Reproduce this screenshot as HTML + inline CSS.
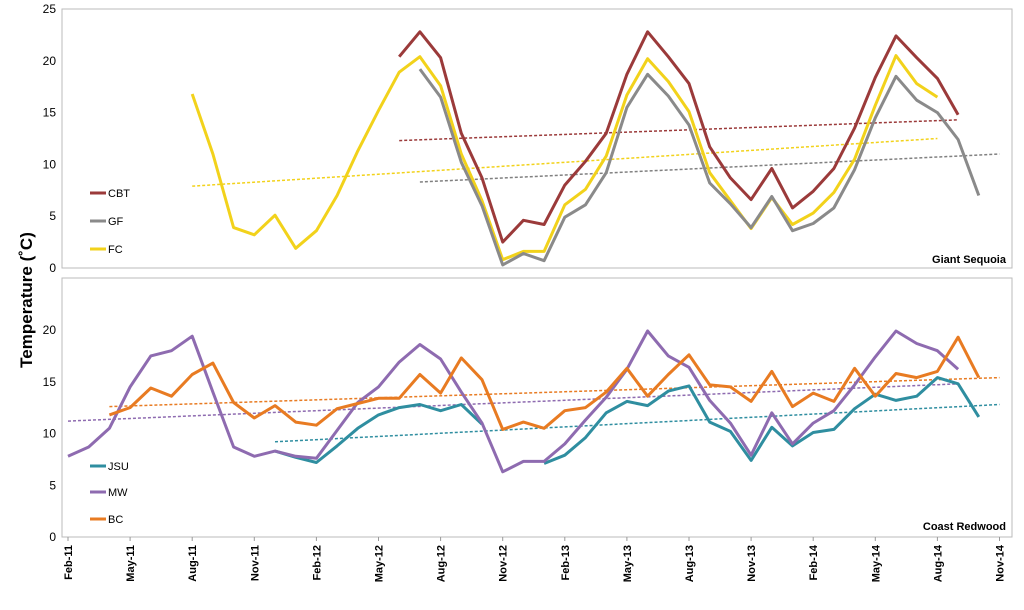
<!DOCTYPE html>
<html><head><meta charset="utf-8"><style>
body{margin:0;background:#fff;font-family:"Liberation Sans",sans-serif}
svg text{font-family:"Liberation Sans",sans-serif}
</style></head><body>
<svg id="c" width="1024" height="605"></svg>
<script>
const months=["Feb-11","May-11","Aug-11","Nov-11","Feb-12","May-12","Aug-12","Nov-12","Feb-13","May-13","Aug-13","Nov-13","Feb-14","May-14","Aug-14","Nov-14"];
const yTicksTop=[0,5,10,15,20,25];
const yTicksBot=[0,5,10,15,20];
const fcStart=6;
const fcVals=[16.8,11,3.9,3.2,5.1,1.9,3.6,7,11.3,15.2,18.9,20.4,17.6,11,6.5,0.8,1.6,1.6,6.1,7.6,10.8,16.7,20.2,18,15.1,9.2,6.5,3.8,6.8,4.2,5.3,7.3,10.5,15.7,20.5,17.8,16.5];
const cbtStart=16;
const cbtVals=[20.4,22.8,20.3,13,8.7,2.5,4.6,4.2,8,10.3,13,18.7,22.8,20.4,17.8,11.7,8.7,6.6,9.6,5.8,7.4,9.6,13.5,18.4,22.4,20.3,18.3,14.8];
const gfStart=17;
const gfVals=[19.2,16.5,10.2,6,0.3,1.4,0.7,4.9,6.1,9.2,15.5,18.7,16.6,13.8,8.2,6.2,3.9,6.9,3.6,4.3,5.8,9.5,14.5,18.5,16.2,15,12.4,7];
const mwStart=0;
const mwVals=[7.8,8.7,10.5,14.5,17.5,18,19.4,14,8.7,7.8,8.3,7.8,7.6,10.3,13,14.5,16.9,18.6,17.2,14,11,6.3,7.3,7.3,9,11.3,13.5,16.2,19.9,17.5,16.4,13.2,11,7.9,12,9,11,12.2,14.7,17.4,19.9,18.7,18,16.2];
const bcStart=2;
const bcVals=[11.8,12.5,14.4,13.6,15.7,16.8,13,11.5,12.7,11.1,10.8,12.4,12.9,13.4,13.4,15.7,13.9,17.3,15.2,10.4,11.1,10.5,12.2,12.5,14,16.3,13.6,15.7,17.6,14.7,14.5,13.1,16,12.6,13.9,13.1,16.3,13.6,15.8,15.4,16,19.3,15.4];
const jsuStart=10;
const jsuVals=[8.3,7.7,7.2,8.8,10.5,11.8,12.5,12.8,12.2,12.8,10.9,null,null,7.1,7.9,9.6,12,13.1,12.7,14.1,14.6,11.1,10.2,7.4,10.6,8.8,10.1,10.4,12.4,13.8,13.2,13.6,15.4,14.8,11.6];
const trends=[["cbt-trend",0,16,12.3,43,14.3,"#9b3a3a"],["gf-trend",0,17,8.3,45,11,"#808080"],["fc-trend",0,6,7.9,42,12.5,"#f2d21b"],
["bc-trend",1,2,12.6,45,15.4,"#e87b22"],["mw-trend",1,0,11.2,43,14.8,"#8e6bb0"],["jsu-trend",1,10,9.2,45,12.8,"#2f8ea0"]];
const svg=document.getElementById('c');const NS="http://www.w3.org/2000/svg";
function mk(t,a,p){const e=document.createElementNS(NS,t);for(const k in a)e.setAttribute(k,a[k]);(p||svg).appendChild(e);return e;}
const X=i=>68+i*20.7;
const Y=[v=>268-v*10.36,v=>537-v*10.35];
// panels
let r=mk('rect',{x:62,y:9,width:950,height:259,fill:'none',stroke:'#bbb'});

r=mk('rect',{x:62,y:278,width:950,height:259,fill:'none',stroke:'#bbb'});

yTicksTop.forEach(v=>{const t=mk('text',{x:56,y:Y[0](v)+4,'text-anchor':'end','font-size':12});t.textContent=v;
});
yTicksBot.forEach(v=>{const t=mk('text',{x:56,y:Y[1](v)+4,'text-anchor':'end','font-size':12});t.textContent=v;
});
months.forEach((m,k)=>{const x=X(k*3);const t=mk('text',{x:x+4,y:545,'text-anchor':'end','font-size':11,'font-weight':'bold',transform:`rotate(-90 ${x+4} 545)`});t.textContent=m;

mk('line',{x1:x,x2:x,y1:537,y2:541,stroke:'#999'});});
let yt=mk('text',{x:32,y:300,'text-anchor':'middle','font-size':17,'font-weight':'bold',transform:'rotate(-90 32 300)'});yt.textContent='Temperature (˚C)';

trends.forEach(([n,p,i0,v0,i1,v1,c])=>{const l=mk('line',{x1:X(i0),y1:Y[p](v0),x2:X(i1),y2:Y[p](v1),stroke:c,'stroke-width':1.5,'stroke-dasharray':'3,2'});
});
function series(name,p,start,vals,color){let d='',pen=false;vals.forEach((v,i)=>{if(v===null){pen=false;return;}d+=(pen?'L':'M')+X(start+i).toFixed(1)+','+Y[p](v).toFixed(1);pen=true;});
const e=mk('path',{d:d,fill:'none',stroke:color,'stroke-width':3,'stroke-linejoin':'round'});
}
series('fc-line',0,fcStart,fcVals,'#f2d21b');
series('gf-line',0,gfStart,gfVals,'#8a8a8a');
series('cbt-line',0,cbtStart,cbtVals,'#9b3a3a');
series('jsu-line',1,jsuStart,jsuVals,'#2f8ea0');
series('mw-line',1,mwStart,mwVals,'#8e6bb0');
series('bc-line',1,bcStart,bcVals,'#e87b22');
[["CBT",193,"#9b3a3a"],["GF",221,"#8a8a8a"],["FC",249,"#f2d21b"],["JSU",466,"#2f8ea0"],["MW",492,"#8e6bb0"],["BC",519,"#e87b22"]].forEach(([n,y,c])=>{
const g=mk('g',{});
mk('line',{x1:90,x2:106,y1:y,y2:y,stroke:c,'stroke-width':3},g);const t=mk('text',{x:108,y:y+4,'font-size':11},g);t.textContent=n;});
let t1=mk('text',{x:1006,y:263,'text-anchor':'end','font-size':11,'font-weight':'bold'});t1.textContent='Giant Sequoia';

let t2=mk('text',{x:1006,y:530,'text-anchor':'end','font-size':11,'font-weight':'bold'});t2.textContent='Coast Redwood';

</script>
</body></html>
